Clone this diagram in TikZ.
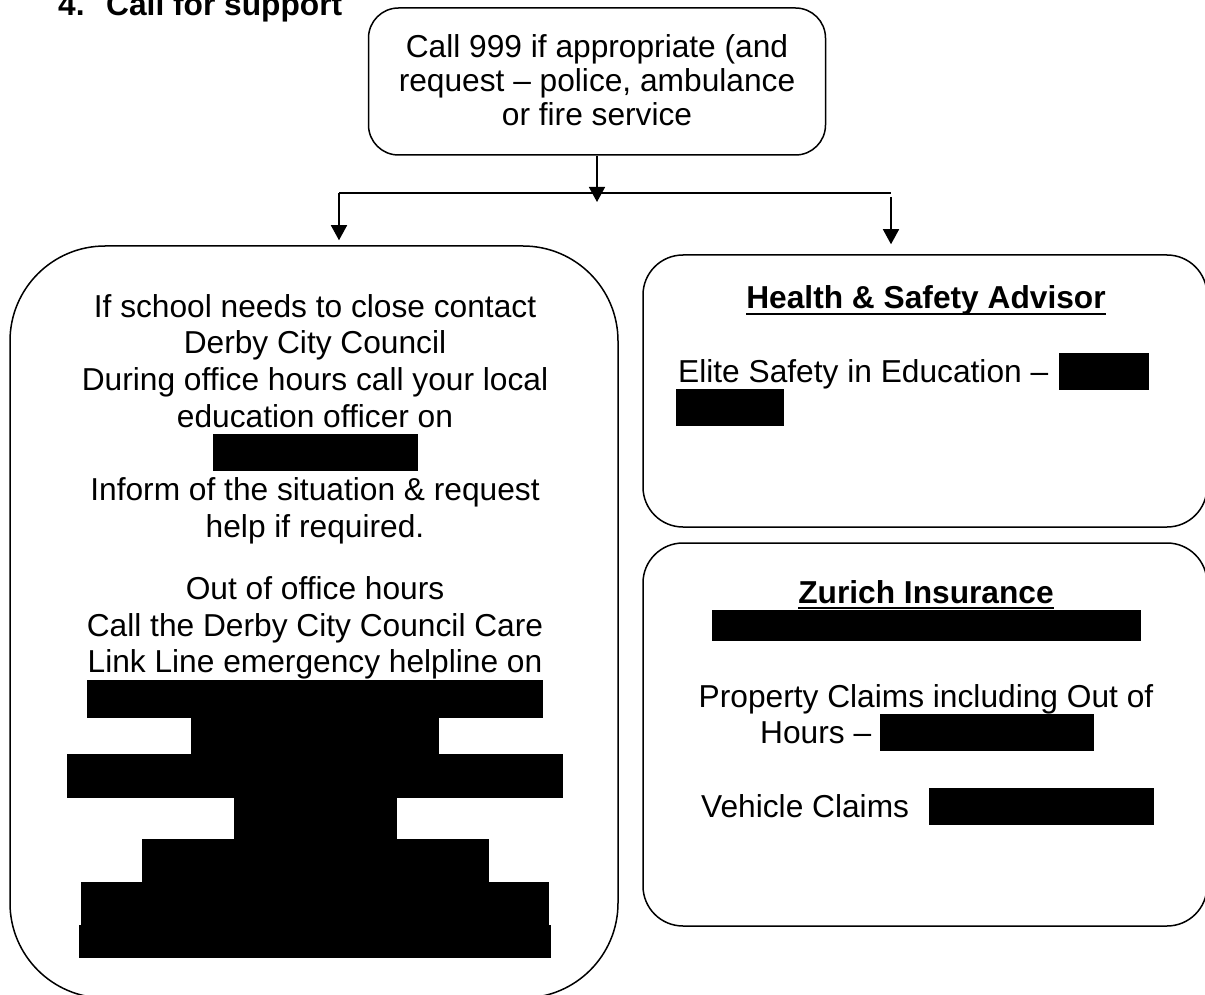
\documentclass[tikz,border=0pt]{standalone}
\usepackage{fontspec}
\setmainfont{Liberation Sans}
\usetikzlibrary{arrows.meta}
\newcommand{\bodyfont}{\fontsize{31.7pt}{36.7pt}\selectfont}
\begin{document}
\begin{tikzpicture}[x=1pt,y=-1pt,
  box/.style={draw, line width=1.5pt, inner sep=0pt},
  txt/.style={inner sep=0pt, anchor=base, font=\bodyfont},
  txtw/.style={inner sep=0pt, anchor=base west, font=\bodyfont},
  ttl/.style={inner sep=0pt, anchor=base, font=\bodyfont\bfseries},
  bar/.style={fill=black},
  conn/.style={line width=1.5pt},
  arr/.style={line width=1.5pt, -{Triangle[length=15pt,width=16pt]}}]
\useasboundingbox (0,0) rectangle (1205,995);
\clip (0,0) rectangle (1205,995);

% title
\node[inner sep=0pt, anchor=base west, font=\bodyfont\bfseries] (title) at (58,16) {4.\hspace*{21.6pt}Call for support};

% boxes
\node[box, minimum width=457pt, minimum height=147pt, rounded corners=30pt] (top) at (597,81.5) {};
\node[box, minimum width=608pt, minimum height=752pt, rounded corners=95pt] (left) at (314,622) {};
\node[box, minimum width=564pt, minimum height=272pt, rounded corners=40pt] (health) at (925,391) {};
\node[box, minimum width=564pt, minimum height=383pt, rounded corners=40pt] (zurich) at (925,734.5) {};

% top box text
\node[txt] (t1) at (597,58) {Call 999 if appropriate (and};
\node[txt] (t2) at (597,92) {request -- police, ambulance};
\node[txt] (t3) at (597,126) {or fire service};

% connectors
\coordinate (hj) at (597,193);
\coordinate (hl) at (339,193);
\coordinate (hr) at (891,193);
\coordinate (hr2) at (891,197);
\draw[arr] (top.south) -- ([yshift=-9pt]hj);
\draw[conn] (hl) -- (hr);
\draw[arr, shorten >=5pt] (hl) -- (hl |- left.north);
\draw[arr, shorten >=10pt] (hr2) -- (hr2 |- health.north);

% left box text
\node[txt] (l1) at (315,317) {If school needs to close contact};
\node[txt] (l2) at (315,353) {Derby City Council};
\node[txt] (l3) at (315,390) {During office hours call your local};
\node[txt] (l4) at (315,427) {education officer on};
\fill[bar] (213,434) rectangle (418,471);
\node[txt] (l5) at (315,500) {Inform of the situation \& request};
\node[txt] (l6) at (315,537) {help if required.};
\node[txt] (l7) at (315,599) {Out of office hours};
\node[txt] (l8) at (315,636) {Call the Derby City Council Care};
\node[txt] (l9) at (315,672) {Link Line emergency helpline on};
\fill[bar] (87,680) rectangle (543,717.5);
\fill[bar] (191,717) rectangle (439,754.5);
\fill[bar] (67,754) rectangle (563,797.5);
\fill[bar] (234,797) rectangle (397,839.5);
\fill[bar] (142,839) rectangle (489,882.5);
\fill[bar] (81,882) rectangle (549,925.5);
\fill[bar] (79,925) rectangle (551,958);

% health box
\node[ttl] (h1) at (926,308) {Health \& Safety Advisor};
\draw[line width=2.3pt] ([yshift=-5.8pt]h1.base west) -- ([yshift=-5.8pt]h1.base east);
\node[txtw] (h2) at (678,382) {Elite Safety in Education --};
\fill[bar] (1059,353) rectangle (1149,390);
\fill[bar] (676,389) rectangle (784,426);

% zurich box
\node[ttl] (z1) at (926,603) {Zurich Insurance};
\draw[line width=2.3pt] ([yshift=-5pt]z1.base west) -- ([yshift=-5pt]z1.base east);
\fill[bar] (712,610) rectangle (1141,641);
\node[txt] (z2) at (926,707) {Property Claims including Out of};
\node[txtw] (z3) at (760,743) {Hours --};
\fill[bar] (880,714) rectangle (1094,751);
\node[txtw] (z4) at (701,817) {Vehicle Claims};
\fill[bar] (929,788) rectangle (1154,825);
\end{tikzpicture}
\end{document}
